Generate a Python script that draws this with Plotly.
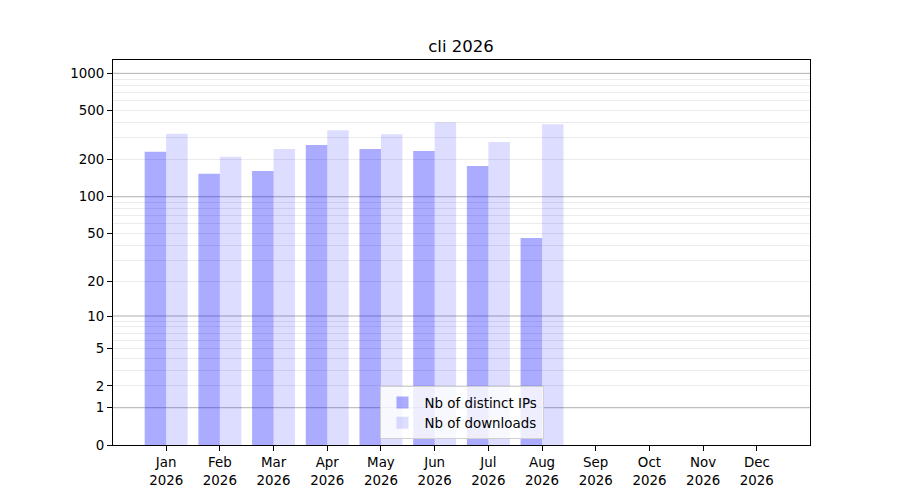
import numpy as np
import plotly.graph_objects as go

months = ["Jan", "Feb", "Mar", "Apr", "May", "Jun", "Jul", "Aug", "Sep", "Oct", "Nov", "Dec"]
year = "2026"
distinct_ips = [232, 154, 162, 263, 244, 235, 178, 46, 0, 0, 0, 0]
downloads = [324, 211, 244, 347, 322, 403, 278, 388, 0, 0, 0, 0]
y_ticks = [0, 1, 2, 5, 10, 20, 50, 100, 200, 500, 1000]
major_grid = [1, 10, 100, 1000]
minor_grid = [2, 3, 4, 5, 6, 7, 8, 9, 20, 30, 40, 50, 60, 70, 80, 90,
              200, 300, 400, 500, 600, 700, 800, 900]
y_top = 1282


def tf(v):
    return np.log10(1 + np.asarray(v, dtype=float))


labels = [f"{m}<br>{year}" for m in months]

fig = go.Figure()
fig.add_trace(go.Bar(x=labels, y=tf(distinct_ips), name="Nb of distinct IPs",
                     marker=dict(color="rgba(0,0,255,0.33)", line=dict(width=0)),
                     customdata=distinct_ips, hovertemplate="%{customdata}"))
fig.add_trace(go.Bar(x=labels, y=tf(downloads), name="Nb of downloads",
                     marker=dict(color="rgba(0,0,255,0.135)", line=dict(width=0)),
                     customdata=downloads, hovertemplate="%{customdata}"))

for v in major_grid:
    fig.add_shape(type="line", xref="paper", x0=0, x1=1, yref="y", y0=float(tf(v)), y1=float(tf(v)),
                  line=dict(color="#b0b0b0", width=1), layer="below")

font = dict(family="DejaVu Sans", size=13.4, color="black")
fig.update_layout(
    width=900, height=500,
    margin=dict(l=104.5, r=98, t=52, b=63),
    paper_bgcolor="white", plot_bgcolor="white",
    font=font,
    barmode="group", bargap=0.2, bargroupgap=0,
    title=dict(text="cli 2026", x=(104.5 + 697 / 2) / 900, xanchor="center", y=1 - 38 / 500, yanchor="middle",
               font=dict(family="DejaVu Sans", size=16.5, color="black")),
    showlegend=True,
    legend=dict(x=0.5, xanchor="center", y=0.015, yanchor="bottom",
                bgcolor="rgba(255,255,255,0.8)", bordercolor="#d0d0d0", borderwidth=1,
                font=font, tracegroupgap=0, itemwidth=34),
    xaxis=dict(range=[-0.99, 11.99], showline=True, linecolor="black", linewidth=1.1,
               mirror=True, ticks="outside", ticklen=5, tickcolor="black", showgrid=False,
               zeroline=False, tickfont=font),
    yaxis=dict(range=[0, float(tf(y_top))], showline=True, linecolor="black", linewidth=1.1,
               mirror=True, ticks="outside", ticklen=5, tickcolor="black",
               tickvals=list(tf(y_ticks)), ticktext=[str(v) for v in y_ticks],
               showgrid=False, zeroline=False, tickfont=font,
               minor=dict(tickvals=list(tf(minor_grid)), showgrid=True, gridcolor="#ebebeb",
                          gridwidth=1, ticks="")),
)

fig.write_html("out.html", config={"displayModeBar": False})
